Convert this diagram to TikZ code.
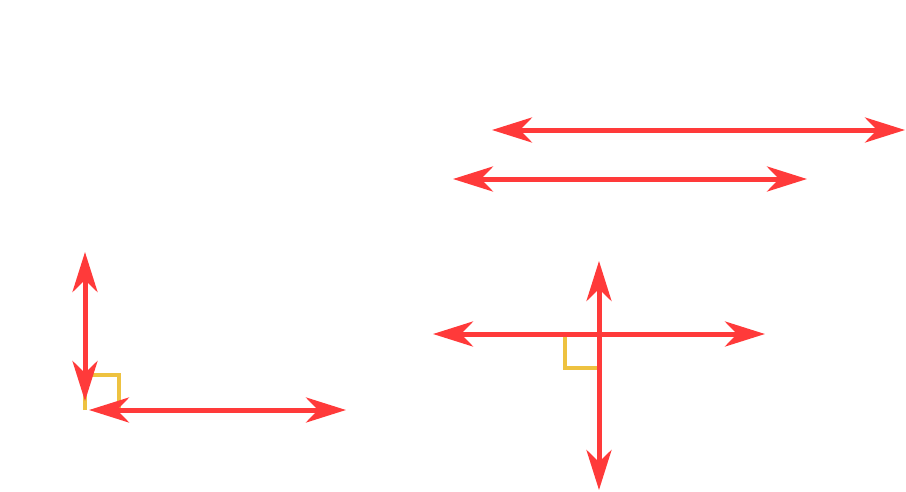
\documentclass[tikz,border=0pt]{standalone}
\usetikzlibrary{arrows.meta}
\definecolor{linered}{RGB}{255,58,58}
\definecolor{markyellow}{RGB}{238,194,64}
\tikzset{
  dline/.style={linered, line width=5pt, {Stealth[length=40pt,width=25pt,inset=12pt]}-{Stealth[length=40pt,width=25pt,inset=12pt]}},
  rmark/.style={markyellow, line width=3.5pt}
}
\begin{document}
\begin{tikzpicture}[x=1pt,y=-1pt]
\useasboundingbox (0,0) rectangle (906,491);
% parallel lines
\coordinate (p1a) at (492,130); \coordinate (p1b) at (905,130);
\coordinate (p2a) at (453,179); \coordinate (p2b) at (807,179);
\draw[dline] (p1a) -- (p1b);
\draw[dline] (p2a) -- (p2b);
% left perpendicular lines
\coordinate (lvt) at (85,252); \coordinate (lvb) at (85,401);
\coordinate (lha) at (89,410); \coordinate (lhb) at (346,410);
\draw[rmark] (85,410) -- (85,375) -- (119,375) -- (119,410);
\draw[dline] (lvt) -- (lvb);
\draw[dline] (lha) -- (lhb);
% right crossing lines
\coordinate (rha) at (433,334); \coordinate (rhb) at (765,334);
\coordinate (rvt) at (599,261); \coordinate (rvb) at (599,490);
\draw[rmark] (599,368) -- (565,368) -- (565,334);
\draw[dline] (rha) -- (rhb);
\draw[dline] (rvt) -- (rvb);
\end{tikzpicture}
\end{document}
